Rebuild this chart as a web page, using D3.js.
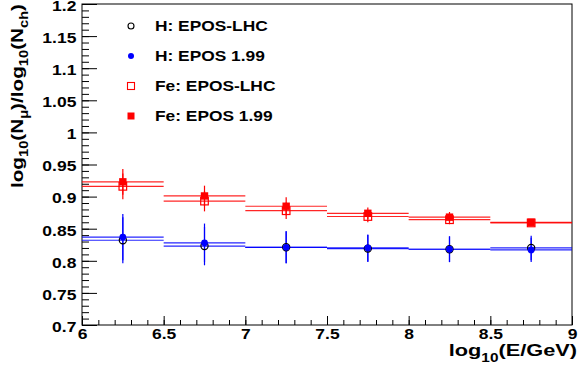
<!DOCTYPE html>
<html>
<head>
<meta charset="utf-8">
<script src="https://cdn.jsdelivr.net/npm/d3@7"></script>
<style>
  body { margin: 0; background: #fff; }
  text { font-family: "Liberation Sans", Arial, sans-serif; font-weight: bold; }
</style>
</head>
<body>
<svg width="578" height="374"></svg>
<script>
// bin centres in log10(E/GeV), half width 0.25
var binCenters = [6.25, 6.75, 7.25, 7.75, 8.25, 8.75];
var binHalf = 0.25;

var hLHC     = [0.832, 0.823, 0.821, 0.819, 0.818, 0.820];
var hLHCErr  = [0.036, 0.030, 0.025, 0.021, 0.020, 0.019];
var h199     = [0.837, 0.828, 0.821, 0.820, 0.818, 0.817];
var h199Err  = [0.036, 0.030, 0.025, 0.021, 0.020, 0.019];
var feLHC    = [0.916, 0.893, 0.878, 0.869, 0.864, 0.859];
var feLHCErr = [0.020, 0.016, 0.013, 0.009, 0.007, 0.004];
var fe199    = [0.923, 0.901, 0.885, 0.874, 0.868, 0.860];
var fe199Err = [0.020, 0.016, 0.014, 0.009, 0.008, 0.004];

var legendLabels = ["H: EPOS-LHC", "H: EPOS 1.99", "Fe: EPOS-LHC", "Fe: EPOS 1.99"];

var svg = d3.select("svg"),
    padL = 82, padR = 572, padT = 4, padB = 325;

// ROOT's bold font is wider than Liberation Sans, stretch text horizontally
var wide = 1.25;

var x = d3.scaleLinear().domain([6, 9]).range([padL, padR]);
var y = d3.scaleLinear().domain([0.7, 1.2]).range([padB, padT]);

// frame
svg.append("rect")
    .attr("x", padL).attr("y", padT)
    .attr("width", padR - padL).attr("height", padB - padT)
    .attr("fill", "none").attr("stroke", "#000").attr("stroke-width", 1);

function styleLabels(g) {
  g.select(".domain").remove();
  g.selectAll("text").attr("font-size", 14).attr("font-weight", "bold")
    .attr("font-family", "Liberation Sans, Arial, sans-serif").attr("fill", "#000")
    .attr("transform", "scale(" + wide + ",1)");
}

// y axis, ticks pointing inside
var yMajor = d3.range(0.7, 1.2001, 0.05);
var yMinor = d3.range(0.7, 1.2001, 0.01);
svg.append("g")
    .attr("transform", "translate(" + padL + ",0)")
    .call(d3.axisLeft(y).tickValues(yMinor).tickSize(-7).tickFormat(""))
    .call(function(g) { g.select(".domain").remove(); });
svg.append("g")
    .attr("transform", "translate(" + padL + ",0)")
    .call(d3.axisLeft(y).tickValues(yMajor).tickSize(-15).tickPadding(4.5)
      .tickFormat(function(d) { return d3.format("~g")(+d.toFixed(2)); }))
    .call(styleLabels)
    .call(function(g) { g.selectAll("text").attr("dy", "0.45em"); });

// x axis
var xMajor = d3.range(6, 9.001, 0.5);
var xMinor = d3.range(6, 9.001, 0.1);
svg.append("g")
    .attr("transform", "translate(0," + padB + ")")
    .call(d3.axisBottom(x).tickValues(xMinor).tickSize(-5).tickFormat(""))
    .call(function(g) { g.select(".domain").remove(); });
svg.append("g")
    .attr("transform", "translate(0," + padB + ")")
    .call(d3.axisBottom(x).tickValues(xMajor).tickSize(-9).tickPadding(4)
      .tickFormat(function(d) { return d3.format("~g")(+d.toFixed(1)); }))
    .call(styleLabels);

// axis titles
var xt = svg.append("text")
    .attr("transform", "translate(577,356) scale(1.28,1)")
    .attr("text-anchor", "end").attr("font-size", 17);
xt.append("tspan").text("log");
xt.append("tspan").attr("font-size", 12).attr("dy", 6).text("10");
xt.append("tspan").attr("dy", -6).text("(E/GeV)");

var yt = svg.append("text")
    .attr("transform", "translate(23,4) rotate(-90) scale(1.22,1)")
    .attr("text-anchor", "end").attr("font-size", 17);
yt.append("tspan").text("log");
yt.append("tspan").attr("font-size", 12).attr("dy", 5).text("10");
yt.append("tspan").attr("dy", -5).text("(N");
yt.append("tspan").attr("font-size", 12).attr("dy", 5).text("\u03bc");
yt.append("tspan").attr("dy", -5).text(")/log");
yt.append("tspan").attr("font-size", 12).attr("dy", 5).text("10");
yt.append("tspan").attr("dy", -5).text("(N");
yt.append("tspan").attr("font-size", 12).attr("dy", 5).text("ch");
yt.append("tspan").attr("dy", -5).text(")");

// data series
var series = [
  { vals: hLHC,  errs: hLHCErr,  color: "#0000ff", marker: "openCircle" },
  { vals: h199,  errs: h199Err,  color: "#0000ff", marker: "circle" },
  { vals: feLHC, errs: feLHCErr, color: "#ff0000", marker: "openSquare" },
  { vals: fe199, errs: fe199Err, color: "#ff0000", marker: "square" }
];

function drawMarker(g, type, cx, cy) {
  if (type == "openCircle") {
    g.append("circle").attr("cx", cx).attr("cy", cy).attr("r", 3.6)
      .attr("fill", "none").attr("stroke", "#000").attr("stroke-width", 1.2);
  } else if (type == "circle") {
    g.append("circle").attr("cx", cx).attr("cy", cy).attr("r", 3.4)
      .attr("fill", "#0000ff");
  } else if (type == "openSquare") {
    g.append("rect").attr("x", cx - 3.8).attr("y", cy - 3.8).attr("width", 7.6).attr("height", 7.6)
      .attr("fill", "none").attr("stroke", "#ff0000").attr("stroke-width", 1.2);
  } else {
    g.append("rect").attr("x", cx - 3.7).attr("y", cy - 3.7).attr("width", 7.4).attr("height", 7.4)
      .attr("fill", "#ff0000");
  }
}

series.forEach(function(s) {
  var g = svg.append("g");
  g.selectAll(".xerr").data(binCenters).enter().append("line")
      .attr("x1", function(d) { return x(d - binHalf); })
      .attr("x2", function(d) { return x(d + binHalf); })
      .attr("y1", function(d, i) { return y(s.vals[i]); })
      .attr("y2", function(d, i) { return y(s.vals[i]); })
      .attr("stroke", s.color).attr("stroke-width", 1.2).attr("opacity", 0.85);
  g.selectAll(".yerr").data(binCenters).enter().append("line")
      .attr("x1", function(d) { return x(d); })
      .attr("x2", function(d) { return x(d); })
      .attr("y1", function(d, i) { return y(s.vals[i] - s.errs[i]); })
      .attr("y2", function(d, i) { return y(s.vals[i] + s.errs[i]); })
      .attr("stroke", s.color).attr("stroke-width", 1.2);
});
series.forEach(function(s) {
  var g = svg.append("g");
  binCenters.forEach(function(d, i) { drawMarker(g, s.marker, x(d), y(s.vals[i])); });
});

// legend
var legY = [26, 56, 86, 116];
series.forEach(function(s, i) {
  var g = svg.append("g");
  if (s.marker == "openCircle") {
    g.append("circle").attr("cx", 131).attr("cy", legY[i]).attr("r", 3)
      .attr("fill", "none").attr("stroke", "#000").attr("stroke-width", 1.1);
  } else if (s.marker == "circle") {
    g.append("circle").attr("cx", 131).attr("cy", legY[i]).attr("r", 3).attr("fill", "#0000ff");
  } else if (s.marker == "openSquare") {
    g.append("rect").attr("x", 127.5).attr("y", legY[i] - 3.5).attr("width", 7).attr("height", 7)
      .attr("fill", "none").attr("stroke", "#ff0000").attr("stroke-width", 1.1);
  } else {
    g.append("rect").attr("x", 127.5).attr("y", legY[i] - 3.5).attr("width", 7).attr("height", 7)
      .attr("fill", "#ff0000");
  }
  g.append("text")
    .attr("transform", "translate(155," + (legY[i] + 5) + ") scale(1.24,1)")
    .attr("font-size", 14).text(legendLabels[i]);
});
</script>
</body>
</html>
